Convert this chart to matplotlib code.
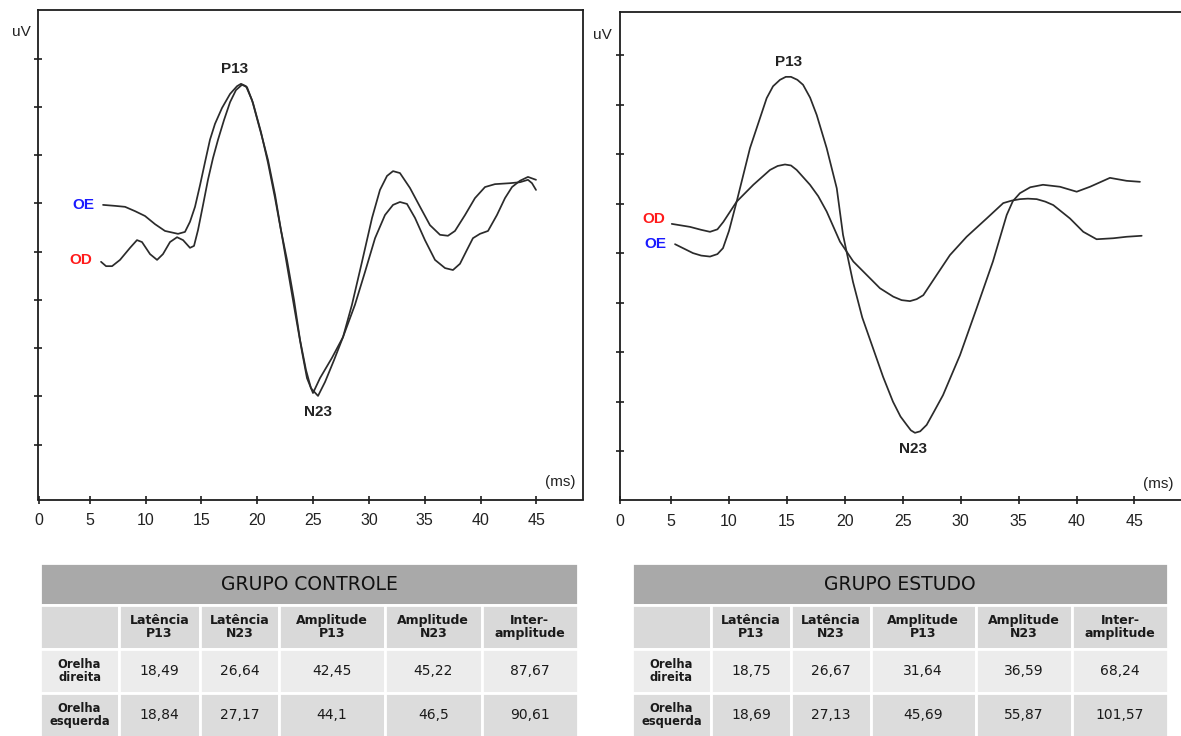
import matplotlib
matplotlib.use("Agg")
import matplotlib.pyplot as plt

# ---------------- data ----------------
# Grupo Controle (left panel)
ctrl_oe_ms = [6.18, 7.25, 8.15, 9.05, 9.94, 10.84, 11.73, 12.90, 13.52, 13.97, 14.42, 14.87, 15.32, 15.76,
              16.21, 16.84, 17.56, 18.18, 18.54, 18.99, 19.53, 20.42, 20.96, 21.59, 22.12, 22.66, 23.29,
              23.83, 24.36, 24.81, 25.44, 26.07, 26.87, 27.68, 28.48, 29.38, 30.28, 30.99, 31.62, 32.16,
              32.78, 33.68, 34.58, 35.47, 36.37, 37.08, 37.71, 38.61, 39.50, 40.40, 41.29, 42.64, 43.53,
              44.25, 44.61, 44.97]
ctrl_oe_uv = [0.97, 0.95, 0.93, 0.84, 0.74, 0.57, 0.43, 0.37, 0.41, 0.62, 0.93, 1.38, 1.86, 2.32, 2.65,
              2.98, 3.27, 3.43, 3.48, 3.43, 3.14, 2.38, 1.90, 1.18, 0.45, -0.17, -1.00, -1.83, -2.45, -2.83,
              -2.99, -2.70, -2.25, -1.77, -1.10, -0.21, 0.70, 1.28, 1.57, 1.67, 1.63, 1.32, 0.93, 0.55,
              0.35, 0.33, 0.43, 0.76, 1.11, 1.34, 1.40, 1.42, 1.44, 1.49, 1.42, 1.28]
ctrl_od_ms = [6.00, 6.45, 6.99, 7.70, 8.60, 9.22, 9.67, 10.39, 11.02, 11.55, 12.18, 12.81, 13.35, 13.97,
              14.33, 14.69, 15.14, 15.58, 16.03, 16.48, 17.02, 17.56, 18.09, 18.63, 19.08, 19.62, 20.33,
              20.96, 21.59, 22.21, 22.84, 23.47, 24.01, 24.45, 24.99, 25.62, 26.69, 27.68, 28.75, 29.65,
              30.55, 31.44, 32.16, 32.78, 33.41, 34.13, 35.02, 35.92, 36.82, 37.53, 38.16, 38.79, 39.32,
              39.95, 40.67, 41.47, 42.19, 42.82, 43.53, 44.25, 44.97]
ctrl_od_uv = [-0.21, -0.30, -0.30, -0.17, 0.08, 0.24, 0.20, -0.05, -0.17, -0.05, 0.20, 0.30, 0.24, 0.08,
              0.12, 0.45, 0.97, 1.49, 1.94, 2.32, 2.73, 3.10, 3.35, 3.46, 3.41, 3.08, 2.48, 1.84, 1.11,
              0.33, -0.52, -1.37, -2.08, -2.62, -2.93, -2.62, -2.20, -1.77, -1.10, -0.42, 0.28, 0.76,
              0.97, 1.03, 0.99, 0.70, 0.24, -0.17, -0.34, -0.38, -0.25, 0.04, 0.28, 0.37, 0.43, 0.76,
              1.11, 1.34, 1.47, 1.55, 1.49]

# Grupo Estudo (right panel)
est_od_ms = [5.06, 6.63, 7.60, 8.36, 9.00, 9.51, 10.66, 12.10, 13.54, 14.20, 14.83, 15.35, 15.84, 16.99,
             17.70, 18.43, 19.58, 20.73, 21.88, 23.03, 24.18, 24.90, 25.62, 26.20, 26.77, 27.93, 29.07,
             30.51, 32.24, 33.67, 34.40, 35.11, 35.80, 36.56, 37.30, 37.99, 39.43, 40.58, 41.73, 43.17,
             44.32, 45.62]
est_od_uv = [0.59, 0.53, 0.47, 0.43, 0.48, 0.63, 1.04, 1.38, 1.68, 1.76, 1.79, 1.77, 1.68, 1.38, 1.15,
             0.84, 0.23, -0.17, -0.44, -0.71, -0.88, -0.95, -0.97, -0.93, -0.85, -0.44, -0.04, 0.33,
             0.70, 1.01, 1.06, 1.09, 1.10, 1.09, 1.04, 0.97, 0.70, 0.43, 0.28, 0.30, 0.33, 0.35]
est_oe_ms = [5.34, 6.89, 7.60, 8.36, 9.00, 9.48, 10.00, 10.66, 11.81, 13.25, 13.80, 14.40, 14.90, 15.35,
             15.90, 16.39, 17.00, 17.57, 18.43, 19.30, 19.84, 20.70, 21.50, 22.43, 23.30, 24.15, 24.80,
             25.34, 25.70, 26.05, 26.50, 27.06, 27.70, 28.47, 29.94, 31.38, 32.78, 33.97, 34.50, 35.11,
             36.00, 37.10, 38.57, 40.01, 41.16, 42.88, 44.32, 45.47]
est_oe_uv = [0.18, 0.00, -0.05, -0.07, -0.02, 0.10, 0.45, 1.04, 2.12, 3.13, 3.37, 3.50, 3.56, 3.56,
             3.50, 3.40, 3.14, 2.79, 2.12, 1.31, 0.37, -0.58, -1.30, -1.92, -2.50, -3.00, -3.30, -3.47,
             -3.58, -3.63, -3.60, -3.47, -3.20, -2.87, -2.06, -1.11, -0.17, 0.77, 1.05, 1.21, 1.33, 1.38,
             1.34, 1.24, 1.34, 1.52, 1.46, 1.44]

x_tick_vals = [5, 10, 15, 20, 25, 30, 35, 40, 45]
y_tick_vals = [-4, -3, -2, -1, 0, 1, 2, 3, 4]

# tables
col_headers = ["", "Latência\nP13", "Latência\nN23", "Amplitude\nP13", "Amplitude\nN23", "Inter-\namplitude"]
row_labels = ["Orelha\ndireita", "Orelha\nesquerda"]
controle_values = [[18.49, 26.64, 42.45, 45.22, 87.67],
                   [18.84, 27.17, 44.1, 46.5, 90.61]]
estudo_values = [[18.75, 26.67, 31.64, 36.59, 68.24],
                 [18.69, 27.13, 45.69, 55.87, 101.57]]

# ---------------- figure ----------------
W, H = 1181, 736
fig = plt.figure(figsize=(W / 100, H / 100), dpi=100)
fig.patch.set_facecolor("white")


def px_axes(x0, y0, x1, y1):
    return [x0 / W, 1 - y1 / H, (x1 - x0) / W, (y1 - y0) / H]


LINE = "#2b2b2b"
AX = "#1e1e1e"
CHART_FONT = ["Liberation Sans", "DejaVu Sans"]


def style_axes(ax, xlim, ylim, hide_right=False):
    ax.set_xlim(*xlim)
    ax.set_ylim(*ylim)
    for s in ax.spines.values():
        s.set_linewidth(1.3)
        s.set_color(AX)
    if hide_right:
        ax.spines["right"].set_visible(False)
    ax.set_xticks([xlim[0] + 0.02] + x_tick_vals)
    ax.set_xticklabels(["0"] + [str(v) for v in x_tick_vals])
    ax.set_yticks(y_tick_vals)
    ax.set_yticklabels([])
    ax.tick_params(axis="both", direction="inout", length=6, width=1.2, color=AX)
    ax.tick_params(axis="x", pad=7, labelsize=11.5, labelcolor="#222222")
    for lab in ax.get_xticklabels():
        lab.set_family(CHART_FONT)


def lbl(ax, x, y, s, color="#222222", size=11, weight="bold"):
    ax.text(x, y, s, ha="center", va="center", fontsize=size, fontweight=weight,
            color=color, family=CHART_FONT, clip_on=False)


def trace(ax, xs, ys):
    ax.plot(xs, ys, color=LINE, lw=1.25, solid_joinstyle="round", solid_capstyle="round",
            antialiased=True)


# Left panel
axL = fig.add_axes(px_axes(38.3, 10, 583, 499.5))
style_axes(axL, (0.38, 49.18), (-5.137, 5.01))
trace(axL, ctrl_oe_ms, ctrl_oe_uv)
trace(axL, ctrl_od_ms, ctrl_od_uv)
lbl(axL, 18.0, 3.79, "P13")
lbl(axL, 25.44, -3.32, "N23")
lbl(axL, 4.39, 0.97, "OE", color="#1a1aff")
lbl(axL, 4.21, -0.17, "OD", color="#ff1a1a")
lbl(axL, -1.17, 4.55, "uV", size=11, weight="normal")
lbl(axL, 47.12, -4.77, "(ms)", size=11, weight="normal")

# Right panel
axR = fig.add_axes(px_axes(620, 11.7, 1185, 500))
style_axes(axR, (0.59, 49.36), (-4.987, 4.876), hide_right=True)
trace(axR, est_od_ms, est_od_uv)
trace(axR, est_oe_ms, est_oe_uv)
lbl(axR, 15.18, 3.86, "P13")
lbl(axR, 25.87, -3.96, "N23")
lbl(axR, 3.53, 0.69, "OD", color="#ff1a1a")
lbl(axR, 3.61, 0.19, "OE", color="#1a1aff")
lbl(axR, -0.92, 4.41, "uV", size=11, weight="normal")
lbl(axR, 47.02, -4.66, "(ms)", size=11, weight="normal")

# ---------------- tables ----------------
col_w = [0.147, 0.150, 0.148, 0.196, 0.180, 0.179]
TFONT = "DejaVu Sans"


def fmt(v):
    return str(v).replace(".", ",")


def draw_table(x0, x1, title, values):
    tax = fig.add_axes(px_axes(x0, 563, x1, 737))
    tax.axis("off")
    tt = tax.table(cellText=[[title]], cellColours=[["#a9a9a9"]], cellLoc="center",
                   bbox=[0, 0.757, 1, 0.243])
    tt.auto_set_font_size(False)
    c = tt[0, 0]
    c.set_edgecolor("white")
    c.set_linewidth(2)
    c.get_text().set_fontsize(13.5)
    c.get_text().set_family(TFONT)
    c.get_text().set_color("#111111")

    cells = [col_headers] + [[row_labels[i]] + [fmt(v) for v in values[i]] for i in range(2)]
    colours = [["#d9d9d9"] * 6, ["#ececec"] * 6, ["#dcdcdc"] * 6]
    tb = tax.table(cellText=cells, cellColours=colours, colWidths=col_w, cellLoc="center",
                   bbox=[0, 0, 1, 0.757])
    tb.auto_set_font_size(False)
    for (r, cidx), cell in tb.get_celld().items():
        cell.set_edgecolor("white")
        cell.set_linewidth(2)
        t = cell.get_text()
        t.set_family(TFONT)
        t.set_color("#1a1a1a")
        t.set_linespacing(1.0)
        if r == 0:
            t.set_fontsize(9)
            t.set_fontweight("bold")
        elif cidx == 0:
            t.set_fontsize(8.3)
            t.set_fontweight("bold")
        else:
            t.set_fontsize(10)


draw_table(40, 578, "GRUPO CONTROLE", controle_values)
draw_table(632, 1168, "GRUPO ESTUDO", estudo_values)

fig.savefig("out.png", dpi=100, facecolor="white")
